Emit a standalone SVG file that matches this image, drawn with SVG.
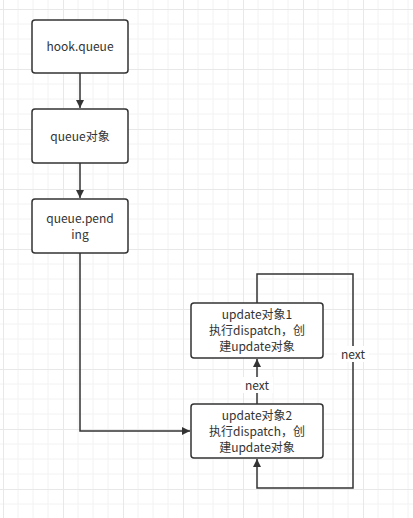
<svg xmlns="http://www.w3.org/2000/svg" width="413" height="518" viewBox="0 0 413 518">
<style>
.box{fill:#fff;stroke:#333;stroke-width:1.5}
.t{font-family:"Noto Sans CJK SC","Microsoft YaHei",sans-serif;font-size:12px;fill:#333;text-anchor:middle}
.e{fill:none;stroke:#333;stroke-width:1.5}
.lbl{fill:#fff}
</style>
<defs>
<pattern id="g" x="3" y="9" width="60" height="60" patternUnits="userSpaceOnUse">
<path d="M15 0V60M30 0V60M45 0V60M0 15H60M0 30H60M0 45H60" stroke="#f2f2f2" stroke-width="1" fill="none"/>
<path d="M0.5 0V60M0 0.5H60" stroke="#e8e8e8" stroke-width="1" fill="none"/>
</pattern>
<marker id="a" markerWidth="10" markerHeight="10" refX="8" refY="4" orient="auto" markerUnits="userSpaceOnUse">
<path d="M0 0L8 4L0 8Z" fill="#333"/>
</marker>
</defs>
<rect width="413" height="518" fill="#fff"/>
<rect width="413" height="518" fill="url(#g)"/>
<g id="connectors">
<path class="e" d="M80 73V108" marker-end="url(#a)"/>
<path class="e" d="M80 163V198" marker-end="url(#a)"/>
<path class="e" d="M80 253V431H190" marker-end="url(#a)"/>
<path class="e" d="M257 404V359" marker-end="url(#a)"/>
<rect class="lbl" x="241" y="377" width="32" height="16"/>
<text class="t" x="257" y="390">next</text>
<path class="e" d="M257 303V274H353V488H257V459" marker-end="url(#a)"/>
<rect class="lbl" x="337" y="346" width="32" height="16"/>
<text class="t" x="353" y="359">next</text>
</g>
<g id="hook-queue">
<rect class="box" x="32" y="20" width="96" height="53" rx="3"/>
<text class="t" x="80" y="51">hook.queue</text>
</g>
<g id="queue-obj">
<rect class="box" x="32" y="109" width="96" height="54" rx="3"/>
<text class="t" x="80" y="141">queue对象</text>
</g>
<g id="queue-pending">
<rect class="box" x="32" y="199" width="96" height="54" rx="3"/>
<text class="t" x="80" y="223">queue.pend</text>
<text class="t" x="80" y="239">ing</text>
</g>
<g id="update1">
<rect class="box" x="191" y="303" width="132" height="55" rx="3"/>
<text class="t" x="257" y="319">update对象1</text>
<text class="t" x="257" y="335">执行dispatch，创</text>
<text class="t" x="257" y="351">建update对象</text>
</g>
<g id="update2">
<rect class="box" x="191" y="404" width="132" height="54" rx="3"/>
<text class="t" x="257" y="420">update对象2</text>
<text class="t" x="257" y="436">执行dispatch，创</text>
<text class="t" x="257" y="452">建update对象</text>
</g>
</svg>
